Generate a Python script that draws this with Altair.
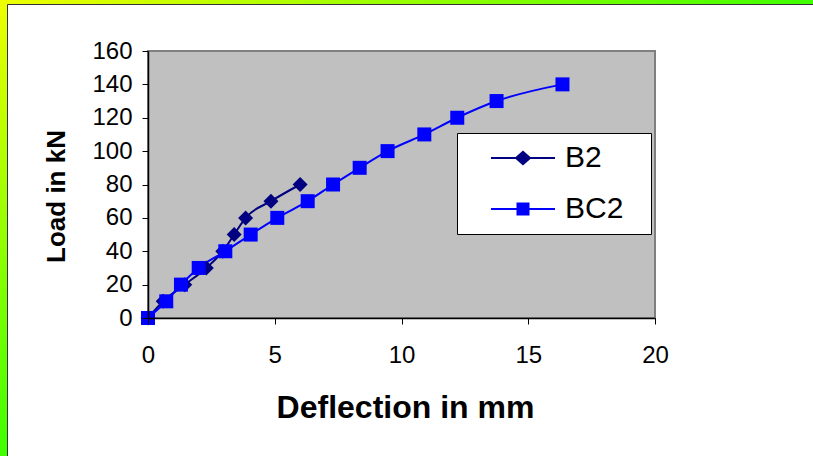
import altair as alt
import pandas as pd

# ---- data ----
series_names = ["B2", "BC2"]
series_colors = ["#000080", "#0000FF"]

b2_defl = [0, 0.6, 1.45, 2.3, 2.95, 3.4, 3.85, 4.85, 6.0]
b2_load = [0, 10, 20, 30, 40, 50, 60, 70, 80]

bc2_defl = [0, 0.72, 1.3, 2.0, 3.05, 4.05, 5.1, 6.3, 7.3, 8.35, 9.45, 10.9, 12.2, 13.75, 16.35]
bc2_load = [0, 10, 20, 30, 40, 50, 60, 70, 80, 90, 100, 110, 120, 130, 140]

x_ticks = [0, 5, 10, 15, 20]
y_ticks = [0, 20, 40, 60, 80, 100, 120, 140, 160]

rows = []
for d, l in zip(b2_defl, b2_load):
    rows.append({"series": "B2", "defl": d, "load": l})
for d, l in zip(bc2_defl, bc2_load):
    rows.append({"series": "BC2", "defl": d, "load": l})
df = pd.DataFrame(rows)

FONT = "Liberation Sans, Arial, sans-serif"
W, H = 507, 267

# legend symbols: line + marker as custom paths
sym_b2 = ("M-2.133,-0.067L2.133,-0.067L2.133,0.067L-2.133,0.067Z "
          "M0,-0.5L0.567,0L0,0.5L-0.567,0Z")
sym_bc2 = ("M-2.133,-0.067L2.133,-0.067L2.133,0.067L-2.133,0.067Z "
           "M-0.433,-0.433L0.433,-0.433L0.433,0.433L-0.433,0.433Z")

xenc = alt.X(
    "defl:Q",
    scale=alt.Scale(domain=[0, 20], nice=False),
    axis=alt.Axis(
        values=x_ticks, format="d", title="Deflection in mm", grid=False,
        tickSize=6, tickColor="black", domainColor="black", domainWidth=1.5,
        labelFontSize=24, labelFont=FONT, labelColor="black", labelPadding=19,
        labelFlush=False,
        titleFontSize=32, titleFont=FONT, titleFontWeight="bold", titleColor="black",
        titleX=257, titleY=89, titleBaseline="middle", titleAlign="center",
        zindex=1,
    ),
)
yenc = alt.Y(
    "load:Q",
    scale=alt.Scale(domain=[0, 160], nice=False),
    axis=alt.Axis(
        values=y_ticks, format="d", title="Load in kN", grid=False,
        tickSize=6, tickColor="black", domainColor="black", domainWidth=1.5,
        labelFontSize=24, labelFont=FONT, labelColor="black", labelPadding=10,
        labelFlush=False,
        titleFontSize=26, titleFont=FONT, titleFontWeight="bold", titleColor="black",
        titleX=-92, titleY=145, titleBaseline="middle", titleAlign="center", titleAngle=270,
        zindex=1,
    ),
)
color_scale = alt.Scale(domain=series_names, range=series_colors)

# trailing non-breaking spaces (kept by a zero-width joiner) widen the legend box
PAD_TXT = "\u00a0\u00a0\u200d"
legend = alt.Legend(
    title=None, orient="none", legendX=309, legendY=82,
    fillColor="white", strokeColor="black",
    padding=10, labelFontSize=30, labelFont=FONT, labelColor="black",
    symbolSize=900, symbolOffset=41, labelOffset=27, rowPadding=21,
    symbolStrokeWidth=0, labelLimit=0, zindex=1,
    labelExpr="datum.label + '" + PAD_TXT + "'",
)

frame_df = pd.DataFrame({"k": [0]})
grad = {
    "gradient": "linear", "x1": 0, "y1": 0, "x2": 1, "y2": 1,
    "stops": [
        {"offset": 0, "color": "#EEFF00"},
        {"offset": 0.5, "color": "#40FF00"},
        {"offset": 1, "color": "#20FF00"},
    ],
}
frame_bg = alt.Chart(frame_df).mark_rect(fill=grad).encode(
    x=alt.value(-148), x2=alt.value(665), y=alt.value(-51), y2=alt.value(405)
)
frame_white = alt.Chart(frame_df).mark_rect(
    fill="white", stroke="#333333", strokeWidth=1
).encode(x=alt.value(-140.5), x2=alt.value(700), y=alt.value(-46.5), y2=alt.value(460))
plot_bg = alt.Chart(frame_df).mark_rect(
    fill="#C0C0C0", stroke="#808080", strokeWidth=2
).encode(x=alt.value(0), x2=alt.value(W), y=alt.value(0), y2=alt.value(H))

base = alt.Chart(df)
lines = base.mark_line(interpolate="monotone", strokeWidth=2).encode(
    x=xenc, y=yenc,
    color=alt.Color("series:N", scale=color_scale, legend=None),
    detail="series:N",
)
pts_b2 = base.transform_filter(alt.datum.series == "B2").mark_point(
    filled=True, opacity=1, shape="diamond", size=225
).encode(x=xenc, y=yenc, color=alt.Color("series:N", scale=color_scale, legend=None))
pts_bc2 = base.transform_filter(alt.datum.series == "BC2").mark_point(
    filled=True, opacity=1, shape="square", size=196
).encode(x=xenc, y=yenc, color=alt.Color("series:N", scale=color_scale, legend=None))

legend_layer = base.transform_filter("false").mark_point(filled=True, opacity=1).encode(
    x=xenc, y=yenc,
    color=alt.Color("series:N", scale=color_scale, legend=legend),
    shape=alt.Shape("series:N", scale=alt.Scale(domain=series_names, range=[sym_b2, sym_bc2]),
                    legend=legend),
)

chart = alt.layer(
    frame_bg, frame_white, plot_bg, lines, pts_b2, pts_bc2, legend_layer
).resolve_legend(
    color="independent", shape="independent"
).properties(
    width=W, height=H,
    padding={"left": 148, "top": 51, "right": 158, "bottom": 138},
    autosize=alt.AutoSizeParams(type="none"),
    background="white",
).configure_view(stroke=None, fill=None).configure_legend(
    strokeWidth=1, cornerRadius=0
)

chart.save("out.html", embed_options={"renderer": "svg", "actions": False})
